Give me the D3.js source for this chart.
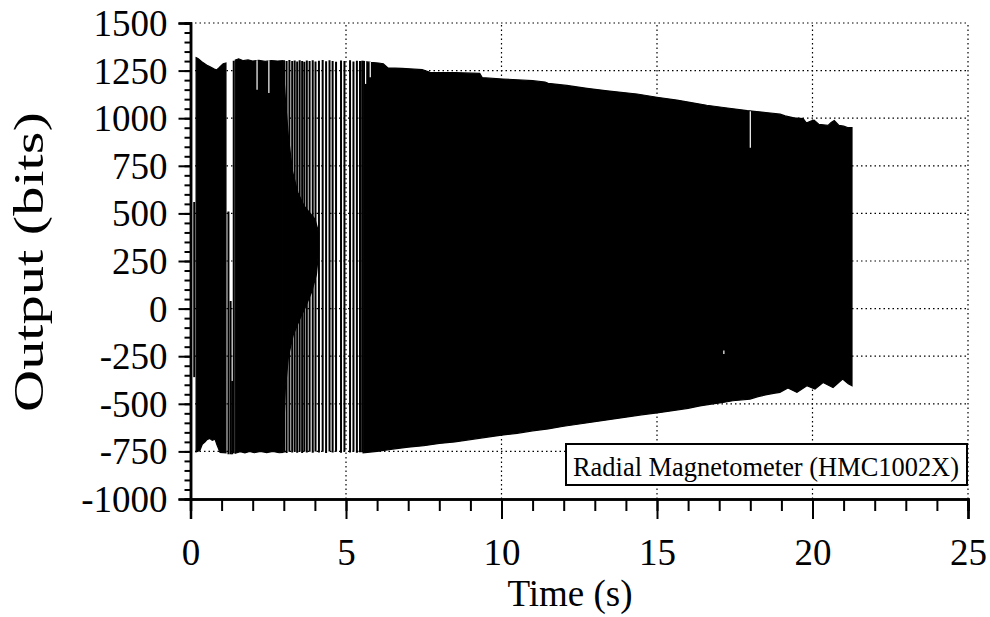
<!DOCTYPE html>
<html>
<head>
<meta charset="utf-8">
<script src="https://cdn.jsdelivr.net/npm/d3@7"></script>
<style>
  html, body { margin: 0; padding: 0; background: #fff; }
  svg text { font-family: "Liberation Serif", "Times New Roman", serif; fill: #000; }
</style>
</head>
<body>
<svg id="chart" width="990" height="617"></svg>
<script>
// ---- axis ticks ----
const xTickValues = [0, 5, 10, 15, 20, 25];
const yTickValues = [-1000, -750, -500, -250, 0, 250, 500, 750, 1000, 1250, 1500];
const xLabel = "Time (s)";
const yLabel = "Output (bits)";
const seriesName = "Radial Magnetometer (HMC1002X)";

// ---- trace envelopes: [time s, output bits] ----
// first burst
const burstATop = [[0.18, 1318], [0.25, 1312], [0.4, 1292], [0.55, 1276], [0.63, 1270], [0.75, 1260], [0.84, 1253], [0.9, 1262], [0.95, 1270], [1.05, 1286], [1.14, 1290]];
const burstABottom = [[0.18, -752], [0.3, -745], [0.38, -712], [0.47, -700], [0.53, -688], [0.62, -682], [0.7, -692], [0.79, -686], [0.85, -715], [0.95, -755], [1.14, -758]];
// second burst
const burstBTop = [[1.44, 1305], [1.55, 1312], [1.7, 1302], [1.85, 1306], [2.0, 1300], [2.2, 1304], [2.4, 1298], [2.6, 1303], [2.8, 1300], [2.97, 1302]];
const burstBBottom = [[1.44, -760], [1.6, -752], [1.75, -758], [1.9, -750], [2.05, -757], [2.25, -750], [2.45, -756], [2.65, -750], [2.85, -757], [2.97, -755]];
// filled centre of the sparse stretch
const coreTop = [[2.97, 1300], [3.06, 1080], [3.15, 900], [3.28, 720], [3.45, 610], [3.65, 540], [3.85, 500], [4.0, 470], [4.12, 400]];
const coreBottom = [[2.97, -755], [3.05, -420], [3.15, -250], [3.3, -140], [3.5, -60], [3.7, 10], [3.9, 90], [4.05, 180], [4.12, 300]];
// long steady run
const runCTop = [[5.55, 1298], [5.8, 1293], [6.05, 1290], [6.2, 1286], [6.35, 1264], [6.8, 1262], [7.45, 1255], [7.7, 1241], [8.5, 1239], [9.3, 1235], [9.38, 1213], [10.05, 1206], [11.0, 1197], [11.4, 1190], [11.5, 1183], [12.1, 1172], [12.75, 1157], [13.4, 1144], [14.36, 1127], [15.0, 1110], [15.64, 1095], [16.1, 1082], [16.6, 1068], [17.2, 1055], [17.9, 1040], [18.5, 1030], [18.96, 1021], [19.12, 1012], [19.4, 1002], [19.7, 998], [19.8, 975], [19.95, 985], [20.05, 990], [20.2, 968], [20.5, 962], [20.6, 978], [20.7, 988], [20.85, 962], [21.0, 958], [21.15, 950], [21.27, 950]];
const runCBottom = [[5.55, -757], [6.0, -750], [6.5, -738], [7.0, -728], [7.5, -720], [8.0, -708], [8.5, -700], [9.0, -688], [9.5, -676], [10.0, -665], [10.5, -655], [11.0, -642], [11.5, -632], [12.0, -618], [12.5, -606], [13.0, -594], [13.5, -582], [14.0, -570], [14.5, -558], [15.0, -548], [15.5, -536], [16.0, -524], [16.38, -511], [16.8, -500], [17.12, -493], [17.44, -484], [17.99, -475], [18.25, -462], [18.53, -452], [18.75, -445], [18.95, -440], [19.21, -417], [19.5, -440], [19.82, -405], [20.08, -422], [20.34, -388], [20.66, -414], [20.97, -370], [21.15, -395], [21.27, -405]];

// ---- single resolved cycles: [time s, high bits, low bits] ----
const cycleStrokes = [
  [0.12, 560, -360], [1.22, 510, -765], [1.29, 40, -765], [1.34, -380, -765], [1.39, 1302, -760],
  [3.01, 1304, -756], [3.09, 1300, -758], [3.18, 1306, -752], [3.27, 1300, -756], [3.35, 1303, -750],
  [3.43, 1298, -757], [3.51, 1305, -752], [3.59, 1300, -758], [3.66, 1296, -750], [3.74, 1303, -756],
  [3.83, 1300, -752], [3.93, 1305, -757], [4.02, 1298, -751], [4.13, 1302, -756], [4.25, 1306, -752],
  [4.36, 1299, -758], [4.47, 1304, -750], [4.57, 1300, -756], [4.68, 1297, -752], [4.84, 1303, -757],
  [4.95, 1300, -751], [5.13, 1305, -756], [5.24, 1298, -752], [5.35, 1302, -757], [5.45, 1300, -754],
  [5.52, 1302, -755]
];
// short dropouts inside the filled trace: [time s, from bits, to bits]
const dropouts = [[2.14, 1305, 1150], [2.52, 1305, 1133], [5.63, 1300, 1180], [5.78, 1296, 1215], [18.0, 1036, 845], [17.15, -220, -238]];

// ---- layout ----
const svg = d3.select("#chart");
const x = d3.scaleLinear().domain([0, 25]).range([190.5, 968]);
const y = d3.scaleLinear().domain([-1000, 1500]).range([499, 23]);

// dotted grid at the major ticks
const grid = svg.append("g").attr("stroke", "#000").attr("stroke-width", 1.2).attr("stroke-dasharray", "1.5,3");
grid.selectAll("line.v").data(xTickValues.filter(d => d > 0)).join("line")
  .attr("x1", d => x(d)).attr("x2", d => x(d)).attr("y1", y(-1000)).attr("y2", y(1500));
grid.selectAll("line.h").data(yTickValues.filter(d => d > -1000)).join("line")
  .attr("y1", d => y(d)).attr("y2", d => y(d)).attr("x1", x(0)).attr("x2", x(25));

// trace
const outline = d3.line().x(d => x(d[0])).y(d => y(d[1]));
const trace = svg.append("g");
[[burstATop, burstABottom], [burstBTop, burstBBottom], [coreTop, coreBottom], [runCTop, runCBottom]]
  .forEach(([top, bottom]) => {
    trace.append("path")
      .attr("d", outline(top.concat(bottom.slice().reverse())) + "Z")
      .attr("fill", "#000").attr("stroke", "#000").attr("stroke-width", 1.2);
  });
trace.selectAll("line.cycle").data(cycleStrokes).join("line")
  .attr("x1", d => x(d[0])).attr("x2", d => x(d[0]))
  .attr("y1", d => y(d[1])).attr("y2", d => y(d[2]))
  .attr("stroke", "#000").attr("stroke-width", 2);
trace.selectAll("line.drop").data(dropouts).join("line")
  .attr("x1", d => x(d[0])).attr("x2", d => x(d[0]))
  .attr("y1", d => y(d[1])).attr("y2", d => y(d[2]))
  .attr("stroke", "#fff").attr("stroke-width", 1.2);

// axes
const minorX = d3.range(0, 25.01, 1);
const minorY = d3.range(-1000, 1500.1, 50);
const plainNumber = d => String(d);

const xMinor = svg.append("g").attr("transform", `translate(0,${y(-1000)})`)
  .call(d3.axisBottom(x).tickValues(minorX).tickSize(12).tickFormat(""));
const xMajor = svg.append("g").attr("transform", `translate(0,${y(-1000)})`)
  .call(d3.axisBottom(x).tickValues(xTickValues).tickSize(20).tickPadding(20).tickFormat(plainNumber));
const yMinor = svg.append("g").attr("transform", `translate(${x(0)},0)`)
  .call(d3.axisLeft(y).tickValues(minorY).tickSize(6).tickFormat(""));
const yMajor = svg.append("g").attr("transform", `translate(${x(0)},0)`)
  .call(d3.axisLeft(y).tickValues(yTickValues).tickSize(12).tickPadding(11).tickFormat(plainNumber));

[xMinor, xMajor, yMinor, yMajor].forEach(g => {
  g.selectAll(".tick line").attr("stroke", "#000").attr("stroke-width", 2);
  g.select(".domain").attr("stroke", "#000").attr("stroke-width", 2.5);
});
[xMajor, yMajor].forEach(g => g.selectAll("text")
  .attr("font-size", 37).attr("font-family", "Liberation Serif").attr("fill", "#000"));
yMajor.selectAll("text").attr("dy", "0.34em");

// axis titles
svg.append("text").attr("x", 570).attr("y", 606).attr("text-anchor", "middle")
  .attr("font-size", 37).text(xLabel);
svg.append("text").attr("transform", "translate(43,262) rotate(-90)").attr("text-anchor", "middle")
  .attr("font-size", 42).attr("textLength", 300).attr("lengthAdjust", "spacingAndGlyphs").text(yLabel);

// series label box
const legend = svg.append("g");
legend.append("rect").attr("x", 566).attr("y", 444).attr("width", 401).attr("height", 41)
  .attr("fill", "#fff").attr("stroke", "#000").attr("stroke-width", 2);
legend.append("text").attr("x", 573).attr("y", 476).attr("font-size", 27.5)
  .attr("textLength", 386).attr("lengthAdjust", "spacingAndGlyphs").text(seriesName);
</script>
</body>
</html>
